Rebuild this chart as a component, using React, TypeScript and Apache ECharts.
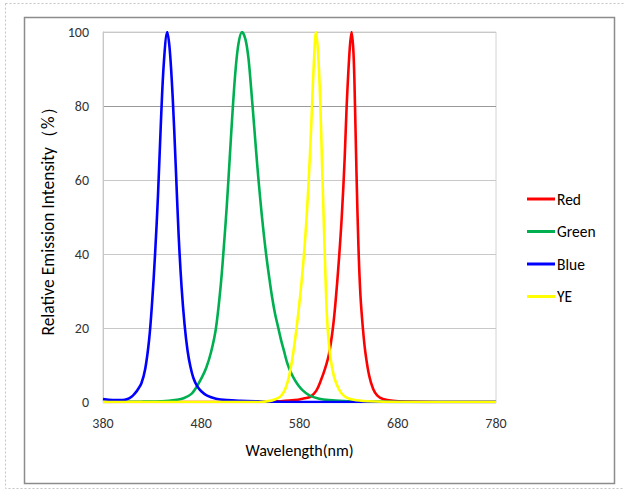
import React, { useEffect, useRef } from "react";
import * as echarts from "echarts";

const xTicks = [380, 480, 580, 680, 780];
const yTicks = [0, 20, 40, 60, 80, 100];
const seriesNames = ["Red", "Green", "Blue", "YE"];
const seriesColors = ["#FF0000", "#00B050", "#0000FF", "#FFFF00"];

const redData = [
  [380, 0], [540, 0], [560, 0.2], [575, 0.5], [585, 1], [591, 1.4], [597, 3], [602, 6],
  [606, 9], [610, 13], [614, 20], [617, 28], [620, 38], [623, 50], [626, 66], [628, 80],
  [631, 95], [633, 100], [635, 94], [636.5, 80], [638, 62], [640, 42], [642, 29],
  [644.5, 20], [647, 13.5], [651, 7], [655, 3.5], [659, 1.8], [665, 0.8], [675, 0.3],
  [690, 0.1], [720, 0], [780, 0],
];
const greenData = [
  [380, 0], [420, 0.1], [440, 0.2], [455, 0.6], [462, 1], [470, 2.2], [475, 4], [480, 6.3],
  [485, 9.2], [490, 13.5], [495, 20], [500, 32], [503, 42], [506, 53], [509, 66],
  [512, 79], [515, 90], [518, 97], [521.5, 100], [525, 98], [528, 93], [531, 84],
  [534, 74], [537, 64], [540, 55], [543, 47], [546, 40], [549, 34], [552, 28.5],
  [555, 24], [558, 20.5], [561, 17], [564, 14], [567, 11], [570, 8.7], [574, 6.5],
  [578, 4.8], [583, 3.2], [590, 1.8], [600, 0.9], [610, 0.5], [625, 0.25], [650, 0.1],
  [700, 0], [780, 0],
];
const blueData = [
  [380, 0.8], [390, 0.5], [400, 0.5], [405, 0.8], [409, 1.4], [412, 2.2], [415, 3.2],
  [419, 5], [423, 9], [427, 17], [430, 27], [433, 40], [436, 56], [439, 76], [442, 92],
  [445.4, 100], [448, 95], [451, 82], [454, 64], [457, 45], [460, 31], [463, 21],
  [466, 14], [469, 9.5], [472, 6.5], [476, 4.2], [480, 2.9], [486, 1.7], [495, 0.9],
  [506, 0.5], [520, 0.3], [540, 0.15], [560, 0.05], [600, 0], [660, 0], [780, 0],
];
const yeData = [
  [380, 0], [540, 0], [550, 0.3], [556, 0.8], [561, 1.6], [565, 3.2], [568, 5.5], [571, 9],
  [574, 14], [577, 20], [580, 27], [583, 35], [586, 45], [589, 58], [592, 75], [594.5, 91],
  [596.8, 100], [599, 94], [601, 82], [603, 64], [605.5, 42], [608, 23], [611, 13],
  [615, 7], [620, 3.5], [626, 1.5], [635, 0.6], [650, 0.2], [680, 0], [780, 0],
];

const allData = [redData, greenData, blueData, yeData];
const FONT = "Carlito, Lato, sans-serif";

export default function App() {
  const ref = useRef<HTMLDivElement>(null);
  useEffect(() => {
    document.body.style.margin = "0";
    const chart = echarts.init(ref.current!, null, { renderer: "svg" });
    chart.setOption({
      animation: false,
      backgroundColor: "#ffffff",
      textStyle: { fontFamily: FONT },
      graphic: [
        {
          type: "rect",
          shape: { x: 5.5, y: 3.5, width: 640, height: 485 },
          style: { fill: "none", stroke: "#c4c4c4", lineWidth: 1, lineDash: [2, 2] },
          silent: true,
        },
        {
          type: "rect",
          shape: { x: 24.5, y: 17.5, width: 590, height: 466 },
          style: { fill: "none", stroke: "#8c8c8c", lineWidth: 1.5 },
          silent: true,
        },
      ],
      grid: {
        left: 103,
        top: 32,
        right: 128,
        bottom: 92,
        show: true,
        borderColor: "#d4d4d4",
        borderWidth: 1,
      },
      legend: {
        orient: "vertical",
        left: 527,
        top: 191,
        padding: 0,
        icon: "rect",
        itemWidth: 28,
        itemHeight: 3,
        itemGap: 16.5,
        textStyle: { fontSize: 15.5, color: "#000", fontFamily: FONT, lineHeight: 16, padding: [0, 0, 0, -3] },
        data: seriesNames,
      },
      xAxis: {
        type: "value",
        min: xTicks[0],
        max: xTicks[xTicks.length - 1],
        interval: 100,
        name: "Wavelength(nm)",
        nameLocation: "middle",
        nameGap: 40,
        nameTextStyle: { fontSize: 16, color: "#000", fontFamily: FONT },
        axisLine: { show: true, lineStyle: { color: "#c8c8c8" } },
        axisTick: { show: false },
        axisLabel: { fontSize: 14, color: "#333", margin: 14, fontFamily: FONT },
        splitLine: { show: false },
      },
      yAxis: {
        type: "value",
        min: yTicks[0],
        max: yTicks[yTicks.length - 1],
        interval: 20,
        name: "Relative Emission Intensity（%）",
        nameLocation: "middle",
        nameGap: 33,
        nameTextStyle: { fontSize: 17.5, color: "#000", fontFamily: FONT },
        axisLine: { show: true, lineStyle: { color: "#c8c8c8" } },
        axisTick: { show: false },
        axisLabel: { fontSize: 14, color: "#333", margin: 14, fontFamily: FONT },
        splitLine: {
          show: true,
          lineStyle: { color: ["#c8c8c8", "#c8c8c8", "#c8c8c8", "#c8c8c8", "#9a9a9a", "#c8c8c8"], width: 1 },
        },
      },
      series: seriesNames.map((name, i) => ({
        name,
        type: "line",
        data: allData[i],
        smooth: 0.35,
        symbol: "none",
        lineStyle: { color: seriesColors[i], width: 2.6 },
        itemStyle: { color: seriesColors[i] },
      })),
    });
    return () => chart.dispose();
  }, []);
  return <div ref={ref} style={{ position: "absolute", left: 0, top: 0, width: 624, height: 494 }} />;
}
